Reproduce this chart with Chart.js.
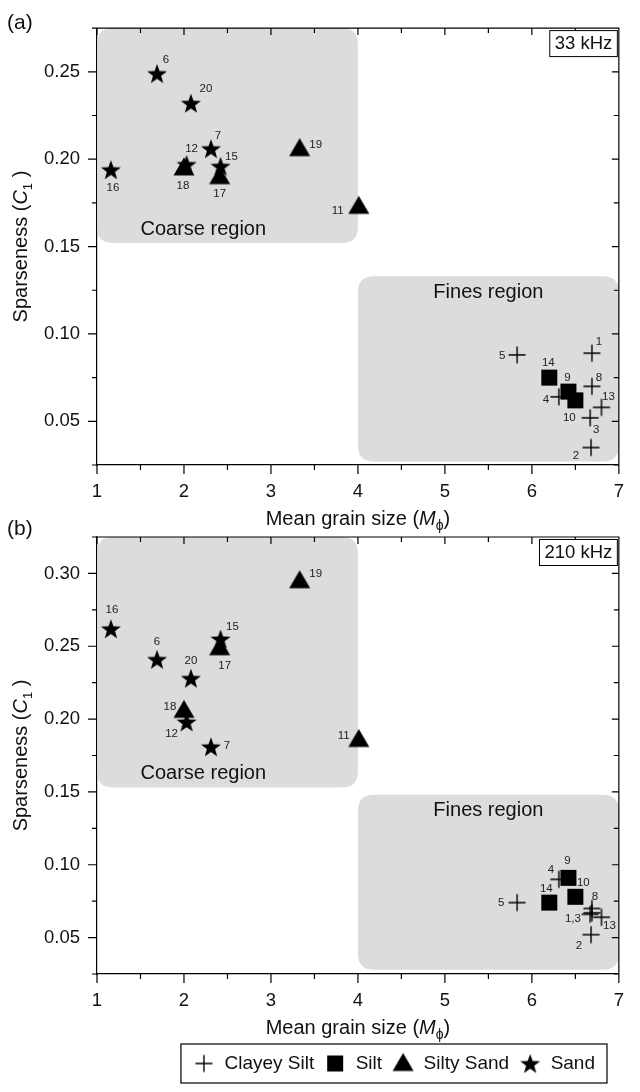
<!DOCTYPE html>
<html>
<head>
<meta charset="utf-8">
<script src="https://cdn.jsdelivr.net/npm/chart.js@4.4.1/dist/chart.umd.min.js"></script>
<style>
  html, body { margin: 0; padding: 0; background: #fff; }
  #wrap { position: relative; width: 640px; height: 1092px; }
  .panel { position: absolute; left: 0; width: 640px; }
  #pa { top: 0; height: 535px; }
  #pb { top: 505px; height: 587px; }
</style>
</head>
<body>
<div id="wrap">
  <div class="panel" id="pa"><canvas id="chartA"></canvas></div>
  <div class="panel" id="pb"><canvas id="chartB"></canvas></div>
</div>
<script>
/* ================= DATA ================= */
const classNames = ["Clayey Silt", "Silt", "Silty Sand", "Sand"];
const sampleIds = [1, 2, 3, 4, 5, 6, 7, 8, 9, 10, 11, 12, 13, 14, 15, 16, 17, 18, 19, 20];
// 0 clayey silt, 1 silt, 2 silty sand, 3 sand
const sampleClass = [0, 0, 0, 0, 0, 3, 3, 0, 1, 1, 2, 3, 0, 1, 3, 3, 2, 2, 2, 3];
const grainSize = [6.69, 6.68, 6.67, 6.31, 5.83, 1.69, 2.31, 6.69, 6.42, 6.50,
                   4.01, 2.03, 6.80, 6.20, 2.42, 1.16, 2.41, 2.00, 3.33, 2.08];
const c1At33kHz = [0.089, 0.035, 0.052, 0.064, 0.088, 0.249, 0.206, 0.070, 0.067, 0.062,
                   0.173, 0.197, 0.058, 0.075, 0.196, 0.194, 0.190, 0.195, 0.206, 0.232];
const c1At210kHz = [0.067, 0.052, 0.066, 0.090, 0.074, 0.241, 0.181, 0.070, 0.091, 0.078,
                    0.186, 0.198, 0.064, 0.074, 0.255, 0.262, 0.249, 0.206, 0.295, 0.228];
const xTickLabels = [1, 2, 3, 4, 5, 6, 7];
const yTickLabelsA = [0.05, 0.10, 0.15, 0.20, 0.25];
const yTickLabelsB = [0.05, 0.10, 0.15, 0.20, 0.25, 0.30];

/* ================= LAYOUT / STYLE ================= */
const FONT = "'Liberation Sans', Arial, Helvetica, sans-serif";
const INK = "#111";
const GREY = "#dcdcdc";
const LEGEND_RIGHT = 607;   // right edge of the legend frame (px)

// label offsets (px) for the sample numbers next to each marker
const labelPosA = {
  1: [7, -11], 2: [-15, 8], 3: [6, 12], 4: [-13, 3], 5: [-15, 1], 6: [9, -14], 7: [7, -13],
  8: [7, -9], 9: [-1, -14], 10: [-6, 17], 11: [-21, 4], 12: [5, -16], 13: [7, -11], 14: [-1, -15],
  15: [11, -9], 16: [2, 18], 17: [0, 17], 18: [-1, 18], 19: [16, -4], 20: [15, -14]
};
const labelPosB = {
  1: [-19, 6], 2: [-12, 11], 4: [-8, -9], 5: [-16, 0], 6: [0, -18], 7: [16, -1], 8: [3, -12],
  9: [-1, -17], 10: [8, -14], 11: [-15, -4], 12: [-15, 12], 13: [8, 9], 14: [-3, -14],
  15: [12, -12], 16: [1, -19], 17: [5, 18], 18: [-14, -4], 19: [16, -7], 20: [0, -17]
};
const labelTextB = { 1: "1,3" };

/* ================= SYMBOLS ================= */
function symbolCanvas(kind) {
  const c = document.createElement("canvas");
  const s = 24;
  c.width = s; c.height = s;
  const g = c.getContext("2d");
  const m = s / 2;
  g.fillStyle = "#000";
  g.strokeStyle = "#000";
  if (kind === "cross") {
    g.lineWidth = 1.4;
    g.beginPath();
    g.moveTo(m - 8.5, m); g.lineTo(m + 8.5, m);
    g.moveTo(m, m - 8.5); g.lineTo(m, m + 8.5);
    g.stroke();
  } else if (kind === "square") {
    g.fillRect(m - 8, m - 8, 16, 16);
  } else if (kind === "triangle") {
    g.beginPath();
    g.moveTo(m, m - 10.5);
    g.lineTo(m + 10.5, m + 7.5);
    g.lineTo(m - 10.5, m + 7.5);
    g.closePath();
    g.fill();
  } else {
    const R = 10.5, r = 4.3;
    g.beginPath();
    for (let i = 0; i < 10; i++) {
      const a = -Math.PI / 2 + i * Math.PI / 5;
      const rad = i % 2 ? r : R;
      g.lineTo(m + rad * Math.cos(a), m + 1 + rad * Math.sin(a));
    }
    g.closePath();
    g.fill();
  }
  return c;
}
const symbols = [symbolCanvas("cross"), symbolCanvas("square"), symbolCanvas("triangle"), symbolCanvas("star")];

function buildDatasets(c1) {
  return classNames.map((name, k) => {
    const pts = [];
    sampleIds.forEach((id, i) => {
      if (sampleClass[i] === k) pts.push({ x: grainSize[i], y: c1[i], id });
    });
    return {
      label: name,
      data: pts,
      pointStyle: symbols[k],
      pointRadius: 8,
      pointHoverRadius: 8,
      borderColor: "#000",
      backgroundColor: "#000",
      borderWidth: 1
    };
  });
}

function makeScales(yMin, yMax, yLabels) {
  return {
    x: {
      type: "linear", min: 1, max: 7,
      ticks: {
        stepSize: 0.5, autoSkip: false, maxRotation: 0, padding: 16,
        color: INK, font: { family: FONT, size: 18.5 },
        callback: v => (xTickLabels.some(t => Math.abs(t - v) < 1e-6) ? String(Math.round(v)) : "")
      },
      grid: { display: false, drawTicks: false },
      border: { display: true, color: "#000", width: 1.2 },
      afterFit: s => { s.height = 70; }
    },
    y: {
      type: "linear", min: yMin, max: yMax,
      ticks: {
        stepSize: 0.025, autoSkip: false, padding: 17,
        color: INK, font: { family: FONT, size: 18.5 },
        callback: v => (yLabels.some(t => Math.abs(t - v) < 1e-6) ? v.toFixed(2) : "")
      },
      grid: { display: false, drawTicks: false },
      border: { display: true, color: "#000", width: 1.2 },
      afterFit: s => { s.width = 97; }
    }
  };
}

function roundedRect(ctx, x, y, w, h, r) {
  ctx.beginPath();
  ctx.moveTo(x + r, y);
  ctx.lineTo(x + w - r, y);
  ctx.quadraticCurveTo(x + w, y, x + w, y + r);
  ctx.lineTo(x + w, y + h - r);
  ctx.quadraticCurveTo(x + w, y + h, x + w - r, y + h);
  ctx.lineTo(x + r, y + h);
  ctx.quadraticCurveTo(x, y + h, x, y + h - r);
  ctx.lineTo(x, y + r);
  ctx.quadraticCurveTo(x, y, x + r, y);
  ctx.closePath();
}

// draws a run of text pieces (for italic / subscript bits)
function richText(ctx, parts, x, y) {
  let w = 0;
  parts.forEach(p => { ctx.font = p.font; w += ctx.measureText(p.t).width; });
  let cx = x - w / 2;
  parts.forEach(p => {
    ctx.font = p.font;
    ctx.fillText(p.t, cx, y + (p.dy || 0));
    cx += ctx.measureText(p.t).width;
  });
}

function legendBounds(legend) {
  const hb = legend.legendHitBoxes;
  return {
    l: Math.min(...hb.map(h => h.left)) - 12,
    r: Math.max(...hb.map(h => h.left + h.width)) + 12,
    t: Math.min(...hb.map(h => h.top)) - 10,
    b: Math.max(...hb.map(h => h.top + h.height)) + 10
  };
}

/* ================= PLUGIN ================= */
const panelPlugin = {
  id: "panel",
  afterUpdate(chart) {
    // push the legend so that its frame ends at LEGEND_RIGHT
    const lg = chart.legend;
    if (!lg || !chart.options.plugins.legend.display) return;
    const dx = LEGEND_RIGHT - legendBounds(lg).r;
    lg.left += dx;
    lg.right += dx;
    lg.legendHitBoxes.forEach(h => { h.left += dx; });
  },
  beforeDatasetsDraw(chart, args, o) {
    const { ctx, scales: { x, y } } = chart;
    ctx.save();
    o.regions.forEach(r => {
      const l = x.getPixelForValue(r.x0), rt = x.getPixelForValue(r.x1);
      const t = y.getPixelForValue(r.y1), b = y.getPixelForValue(r.y0);
      ctx.fillStyle = GREY;
      roundedRect(ctx, l, t, rt - l, b - t, 16);
      ctx.fill();
      ctx.fillStyle = INK;
      ctx.font = `20px ${FONT}`;
      ctx.textBaseline = "middle";
      if (r.anchor === "bottom") {
        ctx.textAlign = "left";
        ctx.fillText(r.text, x.getPixelForValue(r.textX), b - 14);
      } else {
        ctx.textAlign = "center";
        ctx.fillText(r.text, (l + rt) / 2, t + 16);
      }
    });
    ctx.restore();
  },
  afterDatasetsDraw(chart, args, o) {
    const { ctx } = chart;
    ctx.save();
    ctx.fillStyle = "#222";
    ctx.font = `11.5px ${FONT}`;
    ctx.textAlign = "center";
    ctx.textBaseline = "middle";
    chart.data.datasets.forEach((ds, di) => {
      const meta = chart.getDatasetMeta(di);
      meta.data.forEach((el, i) => {
        const id = ds.data[i].id;
        const off = o.labelPos[id];
        if (!off) return;
        const txt = (o.labelText && o.labelText[id]) || String(id);
        ctx.fillText(txt, el.x + off[0], el.y + off[1]);
      });
    });
    ctx.restore();
  },
  afterDraw(chart, args, o) {
    const { ctx, chartArea: a, scales: { x, y } } = chart;
    ctx.save();
    ctx.strokeStyle = "#000";
    ctx.lineWidth = 1.2;
    ctx.beginPath();
    ctx.moveTo(a.left, a.top); ctx.lineTo(a.right, a.top); ctx.lineTo(a.right, a.bottom);
    // ticks
    x.ticks.forEach(t => {
      const px = x.getPixelForValue(t.value);
      const major = t.label !== "";
      ctx.moveTo(px, a.bottom); ctx.lineTo(px, a.bottom + (major ? 9 : 5));
      ctx.moveTo(px, a.top); ctx.lineTo(px, a.top + (major ? 7 : 5));
    });
    y.ticks.forEach(t => {
      const py = y.getPixelForValue(t.value);
      const major = t.label !== "";
      ctx.moveTo(a.left, py); ctx.lineTo(a.left - (major ? 9 : 5), py);
      ctx.moveTo(a.right, py); ctx.lineTo(a.right - (major ? 7 : 5), py);
    });
    ctx.stroke();

    // frequency box
    ctx.font = `18.5px ${FONT}`;
    const tw = ctx.measureText(o.freq).width;
    const bw = tw + 10, bh = 26;
    const bx = a.right - bw - 2, by = a.top + 2;
    ctx.fillStyle = "#fff";
    ctx.fillRect(bx, by, bw, bh);
    ctx.lineWidth = 1;
    ctx.strokeRect(bx + 0.5, by + 0.5, bw, bh);
    ctx.fillStyle = INK;
    ctx.textAlign = "center";
    ctx.textBaseline = "middle";
    ctx.fillText(o.freq, bx + bw / 2 + 0.5, by + bh / 2 + 1);

    // panel letter
    ctx.textAlign = "left";
    ctx.textBaseline = "alphabetic";
    ctx.font = `21px ${FONT}`;
    ctx.fillText(o.letter, 7, a.top + o.letterDy);

    // axis titles
    richText(ctx, [
      { t: "Mean grain size (", font: `20px ${FONT}` },
      { t: "M", font: `italic 20px ${FONT}` },
      { t: "\u03D5", font: `14px ${FONT}`, dy: 5 },
      { t: ")", font: `20px ${FONT}` }
    ], (a.left + a.right) / 2, a.bottom + 60);

    ctx.translate(27, (a.top + a.bottom) / 2);
    ctx.rotate(-Math.PI / 2);
    richText(ctx, [
      { t: "Sparseness (", font: `20px ${FONT}` },
      { t: "C", font: `italic 20px ${FONT}` },
      { t: "1", font: `13px ${FONT}`, dy: 5 },
      { t: " )", font: `20px ${FONT}` }
    ], 0, 0);
    ctx.restore();

    // legend frame
    if (chart.legend && chart.options.plugins.legend.display) {
      const lb = legendBounds(chart.legend);
      ctx.save();
      ctx.strokeStyle = "#000";
      ctx.lineWidth = 1.2;
      ctx.strokeRect(lb.l, lb.t, lb.r - lb.l, lb.b - lb.t);
      ctx.restore();
    }
  }
};

function makeChart(id, c1, yMin, yMax, yLabels, opts, legend, pad) {
  return new Chart(document.getElementById(id), {
    type: "scatter",
    data: { datasets: buildDatasets(c1) },
    options: {
      responsive: true,
      maintainAspectRatio: false,
      animation: false,
      events: [],
      layout: { padding: pad },
      scales: makeScales(yMin, yMax, yLabels),
      plugins: {
        legend: legend,
        tooltip: { enabled: false },
        panel: opts
      }
    },
    plugins: [panelPlugin]
  });
}

makeChart("chartA", c1At33kHz, 0.025, 0.275, yTickLabelsA, {
  freq: "33 kHz", letter: "(a)", letterDy: 1,
  labelPos: labelPosA,
  regions: [
    { x0: 1, x1: 4, y0: 0.152, y1: 0.275, text: "Coarse region", anchor: "bottom", textX: 1.5 },
    { x0: 4, x1: 7, y0: 0.027, y1: 0.133, text: "Fines region", anchor: "top" }
  ]
}, { display: false }, { left: 0, right: 6, top: 20, bottom: 0 });

makeChart("chartB", c1At210kHz, 0.025, 0.325, yTickLabelsB, {
  freq: "210 kHz", letter: "(b)", letterDy: -2,
  labelPos: labelPosB, labelText: labelTextB,
  regions: [
    { x0: 1, x1: 4, y0: 0.153, y1: 0.325, text: "Coarse region", anchor: "bottom", textX: 1.5 },
    { x0: 4, x1: 7, y0: 0.028, y1: 0.148, text: "Fines region", anchor: "top" }
  ]
}, {
  display: true,
  position: "bottom",
  labels: {
    usePointStyle: true, pointStyleWidth: 22, padding: 10,
    color: INK, font: { family: FONT, size: 19 }
  }
}, { left: 0, right: 6, top: 32, bottom: 9 });
</script>
</body>
</html>
